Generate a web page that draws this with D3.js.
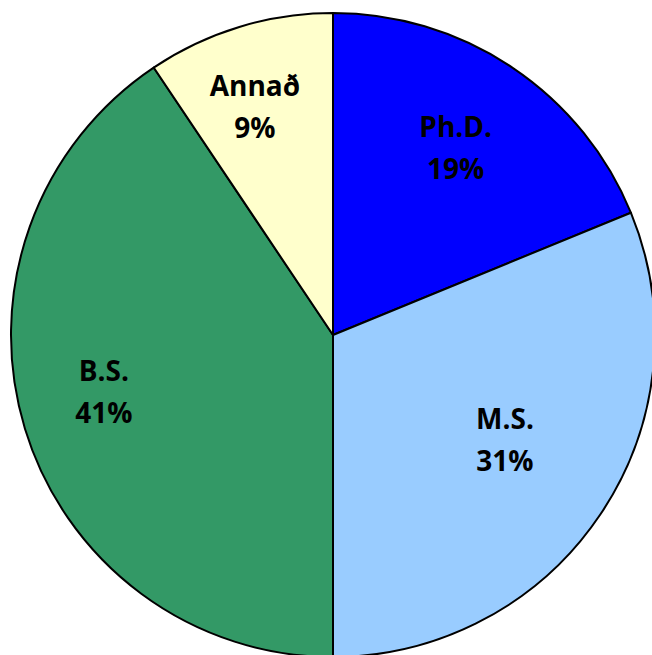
<!DOCTYPE html>
<html>
<head>
<meta charset="utf-8">
<script src="https://cdn.jsdelivr.net/npm/d3@7"></script>
<style>
  html, body { margin: 0; padding: 0; background: #fff; overflow: hidden; }
</style>
</head>
<body>
<div id="chart"></div>
<script>
// data (slice angles), shown rounded
const categories = ["Ph.D.", "M.S.", "B.S.", "Annað"];
const shares = [18.8, 31.2, 40.6, 9.4];
const colors = ["#0000FF", "#99CCFF", "#339966", "#FFFFCC"];

const width = 652, height = 655;
const cx = 333, cy = 335, radius = 322;

// label placement (Excel "best fit" look): radius factor and angle nudge in degrees
const labelFactor = [0.695, 0.626, 0.733, 0.748];
const labelNudge = [-0.6, -2.4, 3, -2];

const svg = d3.select("#chart")
  .append("svg")
  .attr("width", width)
  .attr("height", height);

const g = svg.append("g").attr("transform", `translate(${cx},${cy})`);

const data = categories.map((c, i) => ({ name: c, value: shares[i], color: colors[i] }));

const pie = d3.pie().sort(null).value(d => d.value);
const arc = d3.arc().innerRadius(0).outerRadius(radius);

const arcs = pie(data);

g.selectAll("path.slice")
  .data(arcs)
  .enter()
  .append("path")
  .attr("class", "slice")
  .attr("d", arc)
  .style("fill", d => d.data.color)
  .style("stroke", "#000")
  .style("stroke-width", "2px")
  .style("stroke-linejoin", "round");

//labels: name on top, percent below
const labels = g.selectAll("text.lbl")
  .data(arcs)
  .enter()
  .append("text")
  .attr("class", "lbl")
  .attr("text-anchor", "middle")
  .style("font-family", "'Open Sans', sans-serif")
  .style("font-weight", "bold")
  .style("font-size", "28px")
  .style("fill", "#000")
  .attr("transform", (d, i) => {
    const a = (d.startAngle + d.endAngle) / 2 + labelNudge[i] * Math.PI / 180;
    const r = radius * labelFactor[i];
    return `translate(${r * Math.sin(a)},${-r * Math.cos(a)})`;
  });

labels.append("tspan")
  .attr("x", 0)
  .attr("y", -11)
  .text(d => d.data.name);

labels.append("tspan")
  .attr("x", 0)
  .attr("y", 31)
  .text(d => Math.round(d.data.value) + "%");
</script>
</body>
</html>
